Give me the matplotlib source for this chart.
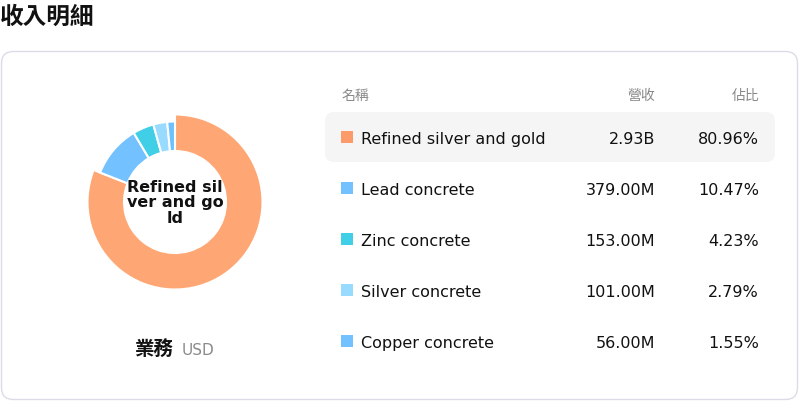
import matplotlib
matplotlib.use("Agg")
import matplotlib.pyplot as plt
from matplotlib.patches import FancyBboxPatch, Rectangle

plt.rcParams['font.family'] = ['DejaVu Sans', 'Noto Sans CJK TC']

# ---- data ----
title = "收入明細"
segment_label = "業務"
currency = "USD"
header_name = "名稱"
header_rev = "營收"
header_pct = "佔比"
names = ["Refined silver and gold", "Lead concrete", "Zinc concrete",
         "Silver concrete", "Copper concrete"]
revenues = [2.93e9, 379.0e6, 153.0e6, 101.0e6, 56.0e6]
colors = ["#FFA774", "#73C2FF", "#40CFE6", "#99DBFF", "#6EC1FF"]
legend_colors = ["#FC9A69", "#73C2FF", "#40CFE6", "#99DBFF", "#73C2FF"]
center_label = "Refined sil\nver and go\nld"


def fmt_money(v):
    if v >= 1e9:
        return f"{v/1e9:.2f}B"
    return f"{v/1e6:.2f}M"


total = sum(revenues)
pcts = [v / total * 100 for v in revenues]

W, H = 800, 402
fig = plt.figure(figsize=(W / 100, H / 100), dpi=100)
fig.patch.set_facecolor("white")

bg = fig.add_axes([0, 0, 1, 1])
bg.set_xlim(0, W)
bg.set_ylim(H, 0)
bg.axis("off")

cjk = ['Noto Sans CJK TC', 'DejaVu Sans']

# title
bg.text(0, 17, title, fontsize=17, fontweight="bold", family=cjk,
        ha="left", va="center", color="#111111")

# card
card = FancyBboxPatch((1.5, 52.5), 796, 348, boxstyle="round,pad=0,rounding_size=12",
                      facecolor="white", edgecolor="#DCDCE8", linewidth=1.0)
bg.add_patch(card)

# highlight row
hl = FancyBboxPatch((325, 113), 450, 50, boxstyle="round,pad=0,rounding_size=9",
                    facecolor="#F5F5F5", edgecolor="none")
bg.add_patch(hl)

# headers
hy = 96
bg.text(342, hy, header_name, fontsize=10, family=cjk, color="#888888",
        ha="left", va="center")
bg.text(655, hy, header_rev, fontsize=10, family=cjk, color="#888888",
        ha="right", va="center")
bg.text(759, hy, header_pct, fontsize=10, family=cjk, color="#888888",
        ha="right", va="center")

row_y = [138, 189, 240, 291, 342]
for y, n, v, p, c in zip(row_y, names, revenues, pcts, legend_colors):
    bg.add_patch(Rectangle((341, y - 6), 12, 12, facecolor=c, edgecolor="none"))
    ty = y + 1.5
    bg.text(361, ty, n, fontsize=11.5, color="#111111", ha="left", va="center")
    bg.text(655, ty, fmt_money(v), fontsize=11.5, color="#111111", ha="right", va="center")
    bg.text(759, ty, f"{p:.2f}%", fontsize=11.5, color="#111111", ha="right", va="center")

# segment label
bg.text(135, 350.5, segment_label, fontsize=14, fontweight="bold", family=cjk,
        color="#111111", ha="left", va="center")
bg.text(182, 350.5, currency, fontsize=11, color="#8A8A8A", ha="left", va="center")

# donut
cx, cy, S = 175, 203, 200
pax = fig.add_axes([(cx - S / 2) / W, 1 - (cy + S / 2) / H, S / W, S / H])
pax.set_xlim(-100, 100)
pax.set_ylim(-100, 100)
pax.set_aspect("equal")
pax.axis("off")
wedges, _ = pax.pie(revenues, colors=colors, startangle=90, counterclock=False,
                    radius=80.5, wedgeprops=dict(width=29.5, edgecolor="white", linewidth=1.5))
pax.set_xlim(-100, 100)
pax.set_ylim(-100, 100)
wedges[0].set_radius(87.5)
wedges[0].set_width(36.5)
pax.text(0, 0, center_label, fontsize=11.5, fontweight="bold", ha="center",
         va="center", linespacing=1.05, color="#111111")

fig.savefig("out.png", dpi=100, facecolor="white")
